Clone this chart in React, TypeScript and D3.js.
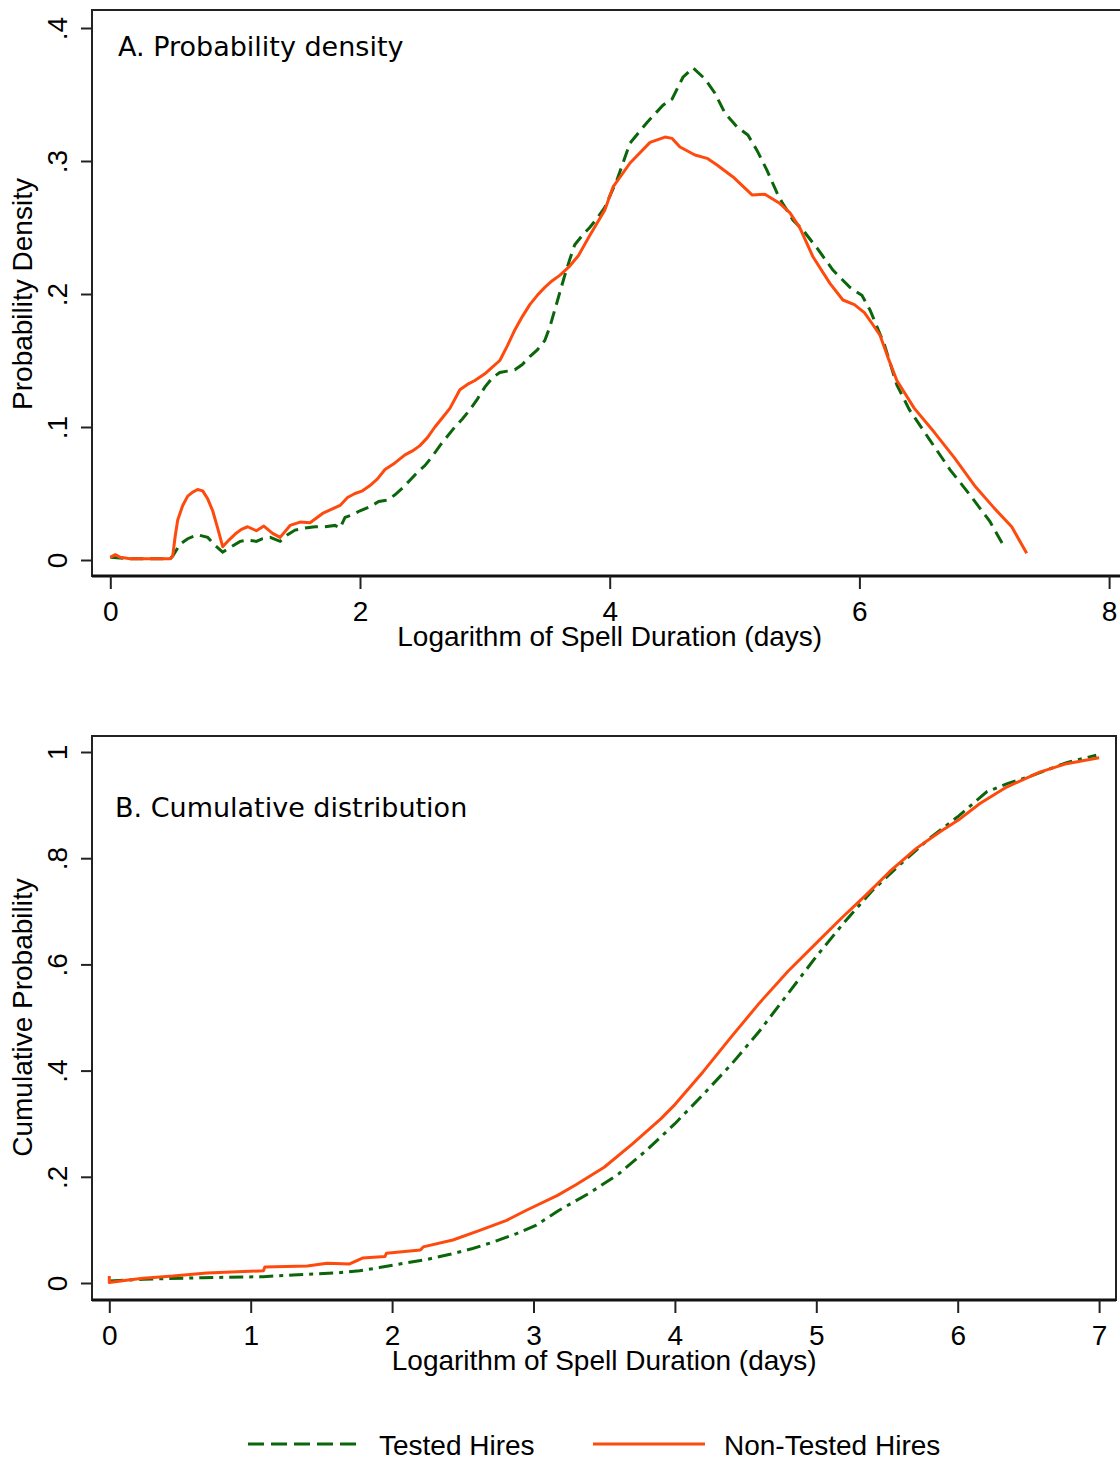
import React, { useEffect, useRef } from 'react';
import * as d3 from 'd3';

// Panel A: kernel density of log spell duration
const testedDensity: [number, number][] = [
  [0, 0.002], [0.16, 0.001], [0.48, 0.001], [0.5, 0.003], [0.56, 0.012], [0.62, 0.016], [0.7, 0.019],
  [0.78, 0.017], [0.84, 0.011], [0.9, 0.006], [0.97, 0.01], [1.04, 0.014], [1.1, 0.015], [1.17, 0.014],
  [1.22, 0.016], [1.28, 0.017], [1.36, 0.014], [1.42, 0.019], [1.48, 0.0225], [1.56, 0.024], [1.64, 0.025],
  [1.72, 0.025], [1.8, 0.026], [1.84, 0.024], [1.88, 0.032], [1.94, 0.034], [2.0, 0.037], [2.08, 0.04],
  [2.15, 0.044], [2.22, 0.045], [2.28, 0.049], [2.34, 0.054], [2.4, 0.06], [2.46, 0.066], [2.52, 0.071],
  [2.58, 0.078], [2.64, 0.086], [2.7, 0.093], [2.76, 0.1], [2.82, 0.106], [2.88, 0.113], [2.94, 0.121],
  [3.0, 0.13], [3.06, 0.137], [3.12, 0.141], [3.18, 0.142], [3.24, 0.143], [3.3, 0.147], [3.36, 0.153],
  [3.42, 0.158], [3.48, 0.165], [3.52, 0.175], [3.56, 0.188], [3.6, 0.201], [3.64, 0.214], [3.68, 0.226],
  [3.72, 0.237], [3.78, 0.244], [3.84, 0.25], [3.9, 0.257], [3.96, 0.265], [4.058, 0.2857], [4.163, 0.3135],
  [4.299, 0.329], [4.427, 0.342], [4.5, 0.3466], [4.587, 0.363], [4.667, 0.37], [4.763, 0.3617],
  [4.843, 0.351], [4.923, 0.336], [5.02, 0.3256], [5.107, 0.3195], [5.18, 0.308], [5.26, 0.293],
  [5.34, 0.276], [5.38, 0.269], [5.468, 0.2556], [5.548, 0.248], [5.66, 0.2346], [5.788, 0.218],
  [5.924, 0.205], [6.02, 0.199], [6.085, 0.188], [6.2, 0.162], [6.3, 0.1316], [6.4, 0.113], [6.566, 0.09],
  [6.725, 0.068], [6.885, 0.049], [7.045, 0.029], [7.165, 0.009],
];

const nonTestedDensity: [number, number][] = [
  [0, 0.002], [0.04, 0.004], [0.08, 0.002], [0.16, 0.001], [0.48, 0.001], [0.5, 0.003], [0.52, 0.018],
  [0.54, 0.03], [0.58, 0.041], [0.62, 0.048], [0.66, 0.051], [0.7, 0.053], [0.74, 0.052], [0.78, 0.046],
  [0.82, 0.037], [0.86, 0.024], [0.9, 0.01], [0.95, 0.015], [1.0, 0.0195], [1.05, 0.023], [1.1, 0.025],
  [1.17, 0.022], [1.23, 0.0255], [1.3, 0.02], [1.36, 0.017], [1.44, 0.026], [1.52, 0.0285], [1.6, 0.028],
  [1.7, 0.035], [1.77, 0.038], [1.84, 0.041], [1.9, 0.047], [1.96, 0.05], [2.02, 0.052], [2.08, 0.056],
  [2.14, 0.061], [2.2, 0.068], [2.28, 0.073], [2.36, 0.079], [2.42, 0.082], [2.48, 0.086], [2.54, 0.092],
  [2.6, 0.1], [2.66, 0.107], [2.72, 0.114], [2.8, 0.128], [2.86, 0.132], [2.92, 0.135], [3.0, 0.14],
  [3.06, 0.145], [3.12, 0.15], [3.18, 0.161], [3.24, 0.173], [3.3, 0.183], [3.36, 0.192], [3.42, 0.199],
  [3.48, 0.205], [3.54, 0.21], [3.6, 0.214], [3.68, 0.221], [3.75, 0.229], [3.84, 0.244], [3.96, 0.263],
  [4.027, 0.2805], [4.163, 0.2985], [4.323, 0.314], [4.443, 0.318], [4.5, 0.317], [4.563, 0.3105],
  [4.683, 0.3045], [4.78, 0.302], [4.86, 0.297], [4.988, 0.288], [5.14, 0.2745], [5.243, 0.275],
  [5.364, 0.268], [5.444, 0.261], [5.524, 0.2495], [5.628, 0.228], [5.764, 0.208], [5.868, 0.1955],
  [5.96, 0.192], [6.04, 0.186], [6.1, 0.178], [6.165, 0.169], [6.23, 0.152], [6.3, 0.135], [6.44, 0.114],
  [6.6, 0.096], [6.76, 0.077], [6.93, 0.055], [7.08, 0.039], [7.22, 0.025], [7.34, 0.005],
];

// Panel B: empirical CDF
const testedCdf: [number, number][] = [
  [0, 0.004], [0.24, 0.007], [0.66, 0.01], [1.09, 0.012], [1.3, 0.015], [1.61, 0.019], [1.77, 0.023],
  [1.91, 0.029], [2.08, 0.037], [2.24, 0.044], [2.41, 0.054], [2.57, 0.065], [2.72, 0.0775], [2.88, 0.093],
  [3.02, 0.109], [3.175, 0.136], [3.4, 0.17], [3.6, 0.205], [3.8, 0.25], [4.0, 0.3], [4.2, 0.355],
  [4.4, 0.412], [4.6, 0.475], [4.8, 0.545], [5.0, 0.615], [5.2, 0.68], [5.4, 0.74], [5.6, 0.79],
  [5.8, 0.837], [6.0, 0.878], [6.205, 0.925], [6.346, 0.94], [6.53, 0.956], [6.77, 0.98], [6.98, 0.994],
];

const nonTestedCdf: [number, number][] = [
  [0, 0.013], [0, 0.001], [0.12, 0.005], [0.24, 0.009], [0.45, 0.013], [0.69, 0.019], [1.09, 0.023],
  [1.1, 0.03], [1.4, 0.032], [1.54, 0.037], [1.7, 0.036], [1.79, 0.047], [1.95, 0.05], [1.96, 0.056],
  [2.2, 0.062], [2.22, 0.068], [2.43, 0.081], [2.62, 0.099], [2.81, 0.118], [2.95, 0.137], [3.17, 0.165],
  [3.3, 0.185], [3.5, 0.218], [3.7, 0.262], [3.9, 0.309], [4.0, 0.336], [4.2, 0.398], [4.4, 0.464],
  [4.6, 0.528], [4.8, 0.587], [5.0, 0.64], [5.17, 0.685], [5.356, 0.732], [5.52, 0.775], [5.71, 0.819],
  [5.875, 0.85], [6.016, 0.874], [6.157, 0.903], [6.346, 0.934], [6.58, 0.962], [6.77, 0.978], [7.0, 0.989],
];

const densityXTicks = [0, 2, 4, 6, 8];
const densityYTicks = [0, 0.1, 0.2, 0.3, 0.4];
const cdfXTicks = [0, 1, 2, 3, 4, 5, 6, 7];
const cdfYTicks = [0, 0.2, 0.4, 0.6, 0.8, 1];

const seriesNames = ['Tested Hires', 'Non-Tested Hires'];
const GREEN = '#0b650b';
const ORANGE = '#ff4a0e';
const AXIS_FONT = '"Liberation Sans", Arial, sans-serif';
const TITLE_FONT = '"DejaVu Sans", Verdana, sans-serif';

const fmtTick = (d: number) => (d === 0 ? '0' : d === 1 ? '1' : String(+d.toFixed(2)).replace(/^0\./, '.'));

const App = () => {
  const ref = useRef<HTMLDivElement>(null);

  useEffect(() => {
    const root = d3.select(ref.current);
    root.select('svg').remove();

    const svg = root
      .append('svg')
      .attr('width', 1120)
      .attr('height', 1464)
      .style('display', 'block')
      .style('background', '#fff');

    const panel = (opts: any) => {
      const { frame, x, y, xTicks, yTicks, title, titlePos, yTitle, tested, nonTested, testedDash } = opts;
      const g = svg.append('g');

      // frame (top/right thin, left/bottom axis lines heavier)
      g.append('rect')
        .attr('x', frame.left).attr('y', frame.top)
        .attr('width', frame.right - frame.left).attr('height', frame.bottom - frame.top)
        .attr('fill', 'none').attr('stroke', '#222').attr('stroke-width', 2);
      g.append('line')
        .attr('x1', frame.left).attr('x2', frame.right)
        .attr('y1', frame.bottom).attr('y2', frame.bottom)
        .attr('stroke', '#111').attr('stroke-width', 3);

      // y axis
      const yAxis = g.append('g')
        .attr('transform', `translate(${frame.left},0)`)
        .call(d3.axisLeft(y).tickValues(yTicks).tickFormat(fmtTick as any).tickSize(11).tickSizeOuter(0));
      yAxis.select('.domain').remove();
      yAxis.selectAll('line').attr('stroke', '#222').attr('stroke-width', 2);
      yAxis.selectAll('text')
        .attr('x', 0).attr('y', -25).attr('dy', 0)
        .attr('transform', 'rotate(-90)')
        .attr('text-anchor', 'middle')
        .attr('fill', '#000')
        .style('font-family', AXIS_FONT).style('font-size', '28px');

      // x axis
      const xAxis = g.append('g')
        .attr('transform', `translate(0,${frame.bottom})`)
        .call(d3.axisBottom(x).tickValues(xTicks).tickFormat(d3.format('d') as any).tickSize(13).tickSizeOuter(0));
      xAxis.select('.domain').remove();
      xAxis.selectAll('line').attr('stroke', '#222').attr('stroke-width', 2);
      xAxis.selectAll('text')
        .attr('y', 45).attr('dy', 0)
        .attr('fill', '#000')
        .style('font-family', AXIS_FONT).style('font-size', '28px');

      const [x0, x1] = x.domain();
      g.append('text')
        .attr('x', x((x0 + x1) / 2)).attr('y', frame.bottom + 70)
        .attr('text-anchor', 'middle')
        .style('font-family', AXIS_FONT).style('font-size', '28px')
        .text('Logarithm of Spell Duration (days)');

      const yMid = (y.range()[0] + y.range()[1]) / 2;
      g.append('text')
        .attr('transform', `translate(32,${yMid}) rotate(-90)`)
        .attr('text-anchor', 'middle')
        .style('font-family', AXIS_FONT).style('font-size', '28px')
        .text(yTitle);

      g.append('text')
        .attr('x', titlePos[0]).attr('y', titlePos[1])
        .style('font-family', TITLE_FONT).style('font-size', '27px')
        .text(title);

      const line = d3.line<[number, number]>().x(d => x(d[0])).y(d => y(d[1]));

      g.append('path')
        .datum(tested)
        .attr('d', line)
        .attr('fill', 'none')
        .attr('stroke', GREEN)
        .attr('stroke-width', 3)
        .attr('stroke-dasharray', testedDash);

      g.append('path')
        .datum(nonTested)
        .attr('d', line)
        .attr('fill', 'none')
        .attr('stroke', ORANGE)
        .attr('stroke-width', 3)
        .attr('stroke-linejoin', 'round');
    };

    panel({
      frame: { left: 92, top: 10, right: 1126, bottom: 576 },
      x: d3.scaleLinear().domain([0, 8]).range([110.3, 1109.1]),
      y: d3.scaleLinear().domain([0, 0.4]).range([560, 28]),
      xTicks: densityXTicks,
      yTicks: densityYTicks,
      title: 'A. Probability density',
      titlePos: [118, 56],
      yTitle: 'Probability Density',
      tested: testedDensity,
      nonTested: nonTestedDensity,
      testedDash: '13,7',
    });

    panel({
      frame: { left: 92, top: 736, right: 1116, bottom: 1300 },
      x: d3.scaleLinear().domain([0, 7]).range([109.3, 1099.1]),
      y: d3.scaleLinear().domain([0, 1]).range([1283, 752]),
      xTicks: cdfXTicks,
      yTicks: cdfYTicks,
      title: 'B. Cumulative distribution',
      titlePos: [115, 817],
      yTitle: 'Cumulative Probability',
      tested: testedCdf,
      nonTested: nonTestedCdf,
      testedDash: '14,6,4,6',
    });

    // legend
    const legend = svg.append('g');
    const items = [
      { name: seriesNames[0], color: GREEN, dash: '16,7', x: 248 },
      { name: seriesNames[1], color: ORANGE, dash: null, x: 593 },
    ];
    items.forEach(it => {
      legend.append('line')
        .attr('x1', it.x).attr('x2', it.x + 112)
        .attr('y1', 1444).attr('y2', 1444)
        .attr('stroke', it.color).attr('stroke-width', 3)
        .attr('stroke-dasharray', it.dash);
      legend.append('text')
        .attr('x', it.x + 131).attr('y', 1455)
        .style('font-family', AXIS_FONT).style('font-size', '28px')
        .text(it.name);
    });
  }, []);

  return <div ref={ref} style={{ position: 'absolute', left: 0, top: 0 }} />;
};

export default App;
